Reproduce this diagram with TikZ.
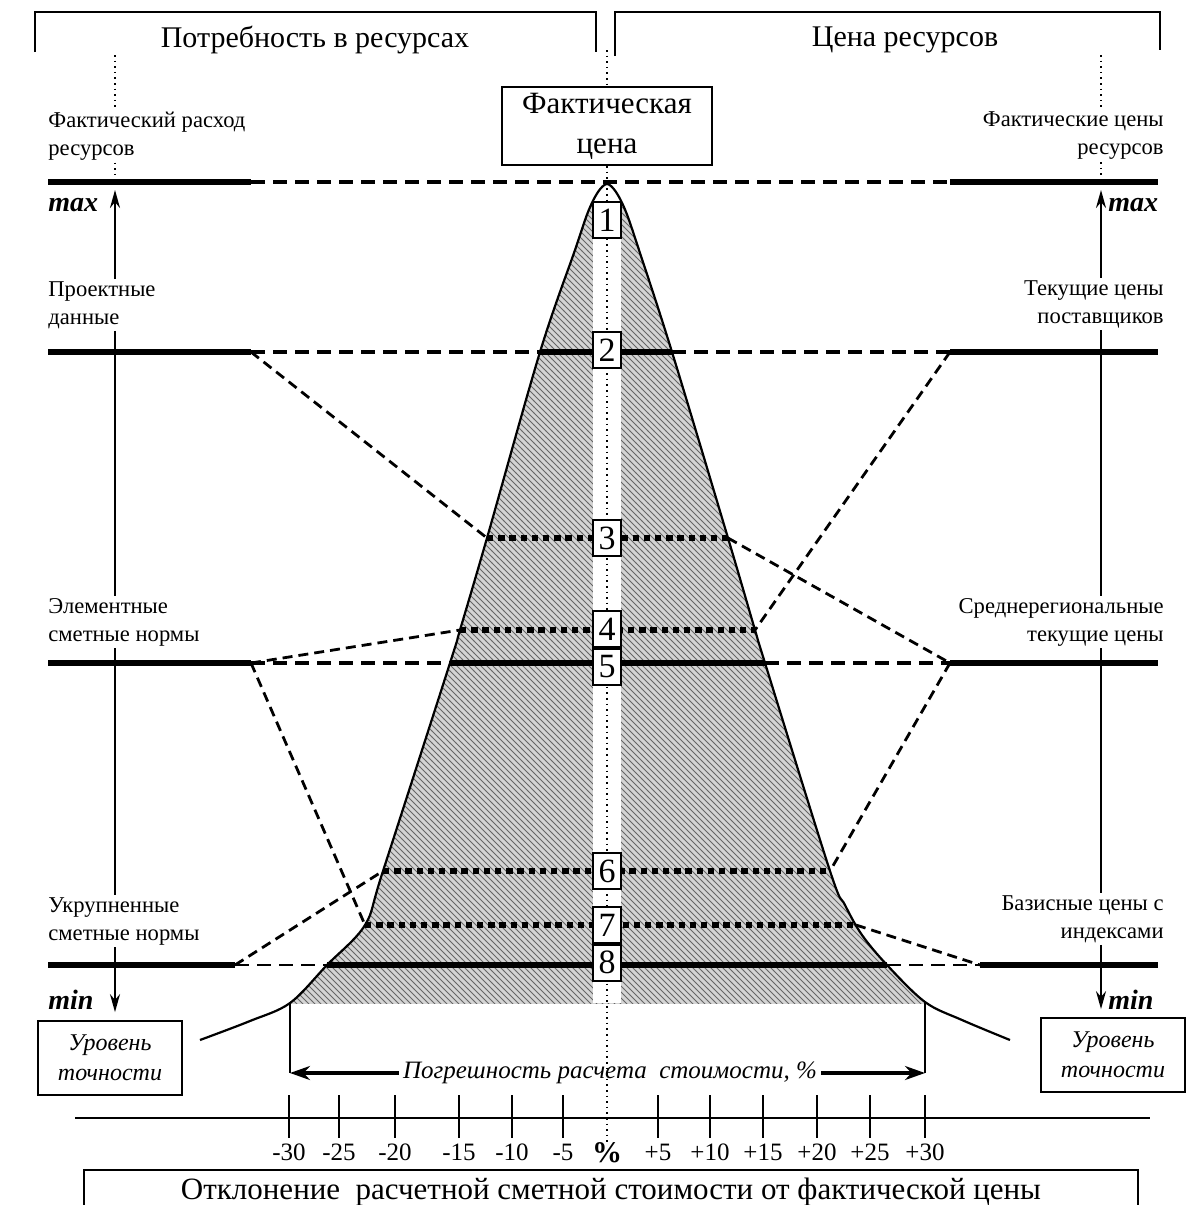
\documentclass[tikz,border=0pt]{standalone}
\usepackage{fontspec}
\setmainfont{Liberation Serif}
\usetikzlibrary{arrows.meta,positioning,patterns}
\newcommand{\BellOutline}{plot[smooth, tension=0.55] coordinates {(200,1040) (250,1021) (290,1003) (327,965) (365,925) (383,871) (450,663) (460,630) (487,538) (540,352) (575,250) (588,212) (598,192) (607,184) (616,192) (626,212) (639,250) (672,352) (728,538) (755,630) (765,663) (830,871) (845,905) (862,935) (887,965) (925,1002) (962,1020) (1010,1040)}}

\begin{document}
\begin{tikzpicture}[x=0.5pt, y=-0.5pt,
		lbl/.style={align=left, font=\fontsize{11.3}{14}\selectfont, inner sep=1pt},
		rlbl/.style={align=right, font=\fontsize{11.3}{14}\selectfont, inner sep=1pt},
		hdr/.style={font=\fontsize{15}{18}\selectfont, inner sep=1pt},
		numbox/.style={draw, line width=0.9pt, fill=white, minimum width=14pt, minimum height=18pt, inner sep=0pt, font=\fontsize{17}{17}\selectfont},
		accbox/.style={draw, line width=0.9pt, fill=white, align=center, minimum width=72pt, minimum height=37pt, inner sep=1pt, font=\fontsize{12}{15}\selectfont\itshape},
		lim/.style={font=\fontsize{14}{14}\selectfont\bfseries\itshape, inner sep=1pt},
		thickln/.style={line width=3.2pt},
		hdash/.style={line width=1.8pt, dash pattern=on 7pt off 4pt},
		ddash/.style={line width=1.4pt, dash pattern=on 5pt off 3pt},
		sqdot/.style={line width=3.2pt, dash pattern=on 3.2pt off 2.4pt},
		axisln/.style={line width=1.1pt},
		cline/.style={dotted, line width=0.8pt},
		upar/.style={-{Stealth[length=9pt, width=5pt]}, line width=1.1pt},
		errar/.style={-{Stealth[length=10pt, width=7pt]}, line width=2pt},
		ticklbl/.style={font=\fontsize{12.5}{12}\selectfont, inner sep=1pt}
	]
	\useasboundingbox (0,0) rectangle (1190,1205);
	\begin{scope}
		\clip (0,183) rectangle (1190,1003);
		\fill[black!17] \BellOutline -- cycle;
		\fill[pattern=north west lines, pattern color=black!60] \BellOutline -- cycle;
	\end{scope}
	\fill[white] (593,183) rectangle (621,1003);
	\draw[line width=1.1pt] \BellOutline;

	\draw[axisln] (35,52) |- (596,12) -- (596,52);
	\draw[axisln] (615,56) |- (1160,12) -- (1160,50);
	\node[hdr] (need) at (315,40) {Потребность в ресурсах};
	\node[hdr] (price) at (905,40) {Цена ресурсов};

	\node[draw, line width=0.9pt, fill=white, align=center, minimum width=105pt, minimum height=39pt, inner sep=1pt, font=\fontsize{15.5}{20}\selectfont] (fact) at (607,126) {Фактическая\\цена};
	\draw[cline] (607,50) -- (fact.north);
	\draw[cline] (fact.south) -- (607,1145);

	\coordinate (p1l) at (251,182); \coordinate (p1r) at (950,182);
	\coordinate (p2l) at (251,352); \coordinate (p2r) at (950,352);
	\coordinate (e2l) at (540,352); \coordinate (e2r) at (672,352);
	\coordinate (e3l) at (487,538); \coordinate (e3r) at (728,538);
	\coordinate (e4l) at (460,630); \coordinate (e4r) at (755,630);
	\coordinate (p5l) at (251,663); \coordinate (p5r) at (950,663);
	\coordinate (e5l) at (450,663); \coordinate (e5r) at (765,663);
	\coordinate (e6l) at (383,871); \coordinate (e6r) at (830,871);
	\coordinate (e7l) at (365,925); \coordinate (e7r) at (856,925);
	\coordinate (p8l) at (235,965); \coordinate (p8r) at (980,965);
	\coordinate (e8l) at (327,965); \coordinate (e8r) at (887,965);

	\foreach \yy/\xl/\xr in {182/251/950, 352/251/950, 663/251/950, 965/235/980} {
		\draw[thickln] (48,\yy) -- (\xl,\yy);
		\draw[thickln] (\xr,\yy) -- (1158,\yy);
	}
	\draw[hdash] (p1l) -- (p1r);
	\draw[hdash] (p2l) -- (e2l);
	\draw[thickln] (e2l) -- (e2r);
	\draw[hdash] (e2r) -- (p2r);
	\draw[hdash] (p5l) -- (e5l);
	\draw[thickln] (e5l) -- (e5r);
	\draw[hdash] (e5r) -- (p5r);
	\draw[hdash, line width=1.3pt] (p8l) -- (e8l);
	\draw[thickln] (e8l) -- (e8r);
	\draw[hdash, line width=1.3pt] (e8r) -- (p8r);
	\draw[sqdot] (e3l) -- (e3r);
	\draw[sqdot] (e4l) -- (e4r);
	\draw[sqdot] (e6l) -- (e6r);
	\draw[sqdot] (e7l) -- (e7r);

	\draw[ddash] (p2l) -- (e3l);
	\draw[ddash] (p2r) -- (e4r);
	\draw[ddash] (e3r) -- (p5r);
	\draw[ddash] (p5l) -- (e4l);
	\draw[ddash] (p5l) -- (e7l);
	\draw[ddash] (p5r) -- (e6r);
	\draw[ddash] (p8l) -- (e6l);
	\draw[ddash] (e7r) -- (p8r);

	\node[numbox] (n1) at (607,220) {1};
	\node[numbox] (n2) at (607,350) {2};
	\node[numbox] (n3) at (607,538) {3};
	\node[numbox] (n4) at (607,629) {4};
	\node[numbox, below=0pt of n4] (n5) {5};
	\node[numbox] (n6) at (607,871) {6};
	\node[numbox] (n7) at (607,925) {7};
	\node[numbox, below=0pt of n7] (n8) {8};

	\node[lbl, anchor=west] (fr) at (46,136) {Фактический расход\\ресурсов};
	\node[lbl, anchor=west] (pd) at (46,305) {Проектные\\данные};
	\node[lbl, anchor=west] (en) at (46,622) {Элементные\\сметные нормы};
	\node[lbl, anchor=west] (un) at (46,921) {Укрупненные\\сметные нормы};
	\node[rlbl, anchor=east] (fp) at (1166,136) {Фактические цены\\ресурсов};
	\node[rlbl, anchor=east] (tp) at (1166,304) {Текущие цены\\поставщиков};
	\node[rlbl, anchor=east] (sp) at (1166,622) {Среднерегиональные\\текущие цены};
	\node[rlbl, anchor=east] (bp) at (1166,919) {Базисные цены с\\индексами};

	\node[accbox] (accl) at (110,1058) {Уровень\\точности};
	\node[accbox] (accr) at (1113,1055) {Уровень\\точности};
	\node[lim, anchor=west] (maxl) at (46,205) {max};
	\node[lim, anchor=west] (maxr) at (1106,205) {max};
	\node[lim, anchor=west] (minl) at (46,1000) {min};
	\node[lim, anchor=west] (minr) at (1106,1000) {min};

	\coordinate (axl) at (115,0);
	\coordinate (axr) at (1101,0);
	\draw[cline] (115,55) -- (fr.north -| axl);
	\draw[cline] (fr.south -| axl) -- (115,180);
	\draw[upar] (pd.north -| axl) -- (115,190);
	\draw[axisln] (pd.south -| axl) -- (en.north -| axl);
	\draw[axisln] (en.south -| axl) -- (un.north -| axl);
	\draw[upar, shorten >=4pt] (un.south -| axl) -- (accl.north -| axl);
	\draw[cline] (1101,55) -- (fp.north -| axr);
	\draw[cline] (fp.south -| axr) -- (1101,180);
	\draw[upar] (tp.north -| axr) -- (1101,190);
	\draw[axisln] (tp.south -| axr) -- (sp.north -| axr);
	\draw[axisln] (sp.south -| axr) -- (bp.north -| axr);
	\draw[upar, shorten >=4pt] (bp.south -| axr) -- (accr.north -| axr);

	\node[font=\fontsize{12.5}{14}\selectfont\itshape, inner sep=2pt] (err) at (610,1073) {Погрешность расчета\ \ стоимости, \%};
	\coordinate (bl) at (290,1003);
	\coordinate (br) at (925,1002);
	\coordinate (cl) at (290,1073);
	\coordinate (cr) at (925,1073);
	\draw[axisln] (bl) -- (cl);
	\draw[axisln] (br) -- (cr);
	\draw[errar] (err.west) -- (cl);
	\draw[errar] (err.east) -- (cr);

	\draw[axisln] (75,1118) -- (1150,1118);
	\foreach \xx/\lbl in {289/-30, 339/-25, 395/-20, 459/-15, 512/-10, 563/-5, 658/+5, 710/+10, 763/+15, 817/+20, 870/+25, 925/+30} {
		\draw[axisln] (\xx,1095) -- (\xx,1138);
		\node[ticklbl] at (\xx,1152) {\lbl};
	}
	\node[font=\fontsize{15}{15}\selectfont\bfseries, inner sep=1pt] (pct) at (607,1153) {\%};

	\draw[axisln] (84,1205) |- (1138,1170) -- (1138,1205);
	\node[font=\fontsize{15.5}{18}\selectfont, inner sep=1pt] (dev) at (611,1192) {Отклонение\ \ расчетной сметной стоимости от фактической цены};
\end{tikzpicture}
\end{document}
